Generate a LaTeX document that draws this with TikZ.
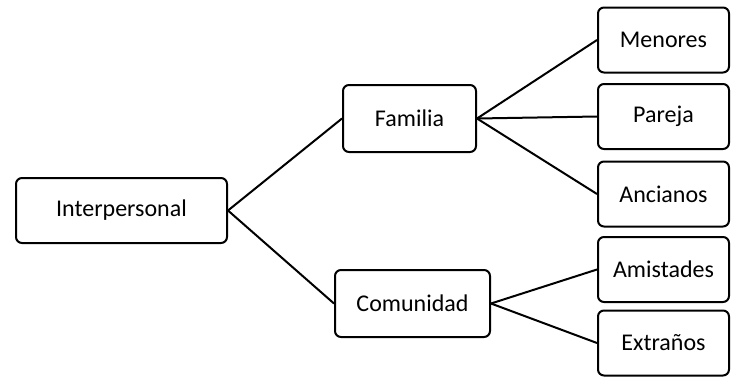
\documentclass[tikz,border=0pt]{standalone}
\usepackage{fontspec}
\setmainfont{Carlito}

\begin{document}
\begin{tikzpicture}[x=1pt,y=-1pt,line width=2pt,
	box/.style={draw,rounded corners=6pt,inner sep=0pt,minimum height=65pt,
		font=\fontsize{24}{28}\selectfont}]
	\useasboundingbox (0,0) rectangle (734,376);
	% first and second level
	\node[box,minimum width=211pt] (interp) at (121.5,210.5) {Interpersonal};
	\node[box,minimum width=133pt,minimum height=67pt] (familia) at (409.5,118.5) {Familia};
	\node[box,minimum width=155pt,minimum height=67pt] (comunidad) at (412.5,303.5) {Comunidad};
	% right column
	\node[box,minimum width=131pt] (menores) at (663.5,40) {Menores};
	\node[box,minimum width=131pt] (pareja) at (663.5,116.5) {Pareja};
	\node[box,minimum width=131pt] (ancianos) at (663.5,194) {Ancianos};
	\node[box,minimum width=131pt] (amistades) at (663.5,269.5) {Amistades};
	\node[box,minimum width=131pt] (extranos) at (663.5,343) {Extraños};
	% edges from the east side of each parent to the west side of each child
	\foreach \a/\b in {interp/familia,interp/comunidad,familia/menores,familia/pareja,
		familia/ancianos,comunidad/amistades,comunidad/extranos}
		\draw (\a.east) -- (\b.west);
\end{tikzpicture}
\end{document}
